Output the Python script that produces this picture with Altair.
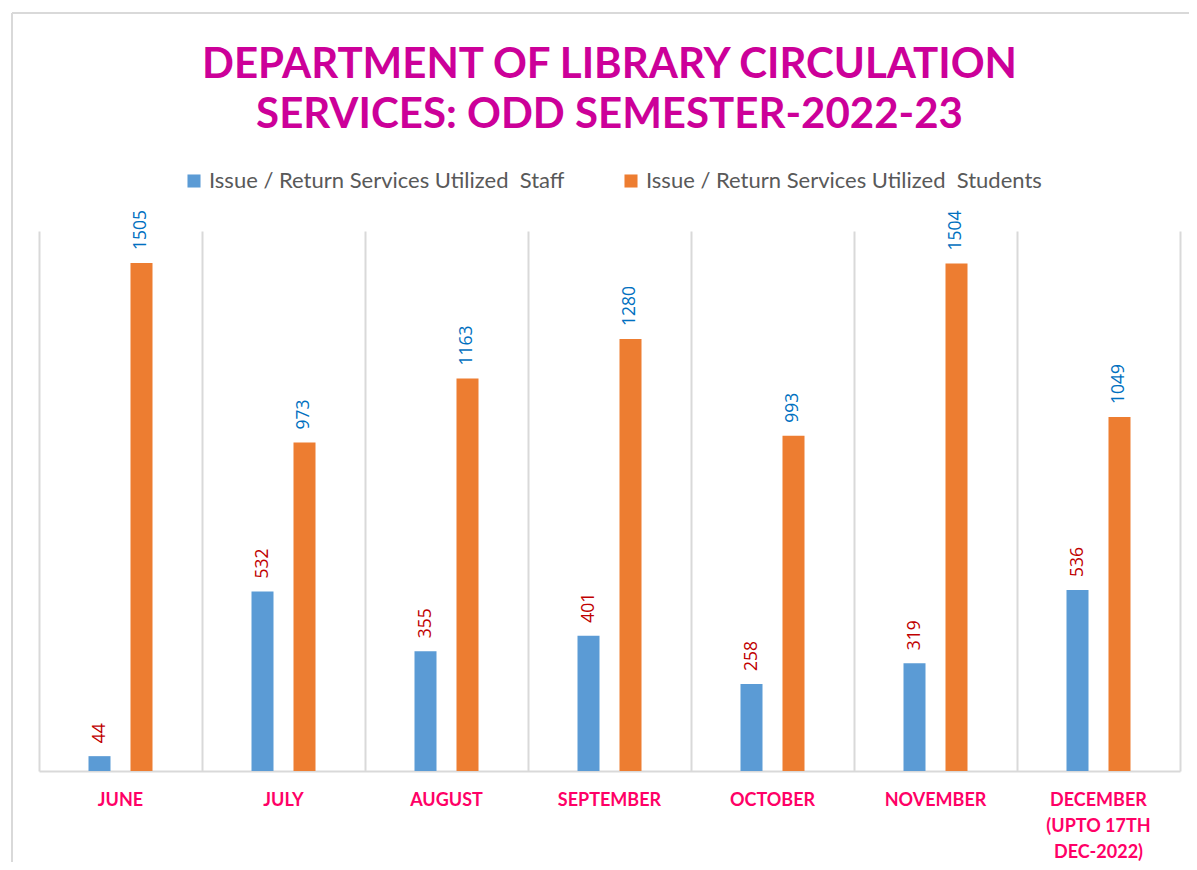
import altair as alt
import pandas as pd

months = ["JUNE", "JULY", "AUGUST", "SEPTEMBER", "OCTOBER", "NOVEMBER",
          "DECEMBER (UPTO 17TH DEC-2022)"]
staff = [44, 532, 355, 401, 258, 319, 536]
students = [1505, 973, 1163, 1280, 993, 1504, 1049]
series_names = ["Issue / Return Services Utilized \u00a0Staff",
                "Issue / Return Services Utilized \u00a0Students"]
bar_colors = ["#5B9BD5", "#ED7D31"]
label_colors = ["#C00000", "#0070C0"]

rows = []
for m, a, b in zip(months, staff, students):
    rows.append({"month": m, "series": series_names[0], "value": a})
    rows.append({"month": m, "series": series_names[1], "value": b})
df = pd.DataFrame(rows)

W, H = 1141, 540
band = W / len(months)

label_expr = ("datum.label == 'DECEMBER (UPTO 17TH DEC-2022)' ? "
              "['DECEMBER', '(UPTO 17TH', 'DEC-2022)'] : datum.label")

x_enc = alt.X("month:N", sort=months, title=None,
              scale=alt.Scale(paddingInner=0, paddingOuter=0),
              axis=alt.Axis(bandPosition=0, labelAngle=0,
                            labelExpr=label_expr, labelFont="Lato",
                            labelFontWeight="bold", labelFontSize=18,
                            labelColor="#FF0066", labelPadding=20,
                            labelLineHeight=26, labelBaseline="top",
                            ticks=False, grid=True, gridColor="#D9D9D9",
                            gridWidth=2, domainColor="#D9D9D9", domainWidth=2))
xoff = alt.XOffset("series:N", sort=series_names,
                   scale=alt.Scale(range=[band / 2 - 32, band / 2 + 32],
                                   paddingInner=0.476, paddingOuter=0))
y_enc = alt.Y("value:Q", title=None,
              scale=alt.Scale(domain=[0, 1600], nice=False),
              axis=alt.Axis(orient="right", labels=False, ticks=False, grid=False,
                            domainColor="#D9D9D9", domainWidth=2))

bars = alt.Chart(df).mark_bar().encode(
    x=x_enc, xOffset=xoff, y=y_enc,
    color=alt.Color("series:N", sort=series_names,
                    scale=alt.Scale(domain=series_names, range=bar_colors),
                    legend=alt.Legend(title=None, orient="none", legendX=144,
                                      legendY=-61, direction="horizontal",
                                      symbolType="square", symbolSize=170,
                                      symbolStrokeWidth=0, labelFont="Lato",
                                      labelFontSize=22, labelColor="#595959",
                                      labelLimit=0, columnPadding=55)),
)

texts = alt.Chart(df).mark_text(angle=270, align="left", baseline="middle",
                                dx=13, font="Open Sans", fontSize=17.5).encode(
    x=alt.X("month:N", sort=months), xOffset=xoff, y=alt.Y("value:Q"),
    text=alt.Text("value:Q"),
    color=alt.condition(alt.datum.series == series_names[0],
                        alt.value(label_colors[0]), alt.value(label_colors[1])),
)

frame_left = alt.Chart(df).mark_rule(color="#D9D9D9", strokeWidth=1.5).encode(
    x=alt.value(-27), y=alt.value(-218), y2=alt.value(700))
frame_top = alt.Chart(df).mark_rule(color="#D9D9D9", strokeWidth=1.5).encode(
    x=alt.value(-27), x2=alt.value(1300), y=alt.value(-218))

chart = alt.layer(frame_left, frame_top, bars, texts).properties(
    width=W, height=H,
    autosize=alt.AutoSizeParams(type="none"),
    padding={"left": 31, "top": 223, "right": 9, "bottom": 91},
    title=alt.Title(["DEPARTMENT OF LIBRARY CIRCULATION",
                     "SERVICES: ODD SEMESTER-2022-23"],
                    font="Lato", fontSize=42, fontWeight="bold",
                    color="#CC0099", lineHeight=50, anchor="middle", offset=30,
                    dy=155),
).configure_view(stroke=None)

chart.save("out.html", embed_options={"renderer": "svg", "actions": False})
